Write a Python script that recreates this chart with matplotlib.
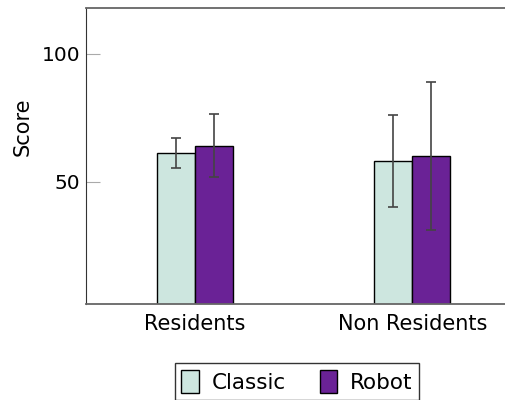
import matplotlib.pyplot as plt
import numpy as np

groups = ['Residents', 'Non Residents']
series = ['Classic', 'Robot']
classic_mean = [61.2, 58.0]
classic_err = [5.8, 18.0]
robot_mean = [64.1, 60.0]
robot_err = [12.3, 29.0]
colors = ['#cde6df', '#6a2296']

plt.rcParams['font.family'] = 'DejaVu Sans'

fig = plt.figure(figsize=(5.06, 4.0), dpi=100)
ax = fig.add_axes([0.17, 0.24, 0.86, 0.74])

x = np.arange(len(groups))
w = 0.175
err_kw = dict(ecolor='#444444', capsize=3.8, elinewidth=1.2, capthick=1.2)
ax.bar(x - w / 2, classic_mean, w, yerr=classic_err, color=colors[0],
       edgecolor='black', linewidth=1, label=series[0], error_kw=err_kw)
ax.bar(x + w / 2, robot_mean, w, yerr=robot_err, color=colors[1],
       edgecolor='black', linewidth=1, label=series[1], error_kw=err_kw)

ax.set_xlim(-0.5, 1.5)
ax.set_ylim(2, 118)
ax.set_yticks([50, 100])
ax.set_xticks(x)
ax.set_xticklabels(groups)
ax.tick_params(axis='y', direction='in', length=10, color='#aaaaaa',
               labelsize=14.5, right=True, pad=4)
ax.tick_params(axis='x', length=0, labelsize=15, pad=7)
ax.set_ylabel('Score', fontsize=15)
ax.yaxis.set_label_coords(-0.122, 0.6)

for s in ['top', 'bottom']:
    ax.spines[s].set_color('#666666')
    ax.spines[s].set_linewidth(1.3)
ax.spines['left'].set_color('#333333')
ax.spines['right'].set_visible(False)

leg = fig.legend(loc='upper center', bbox_to_anchor=(0.587, 0.092), ncol=2,
                 fontsize=15.5, frameon=True, fancybox=False, edgecolor='black',
                 handlelength=0.8, handleheight=1.3, columnspacing=1.6,
                 borderpad=0.3, handletextpad=0.6, borderaxespad=0)
leg.get_frame().set_linewidth(1.0)

fig.savefig('out.png', dpi=100)
